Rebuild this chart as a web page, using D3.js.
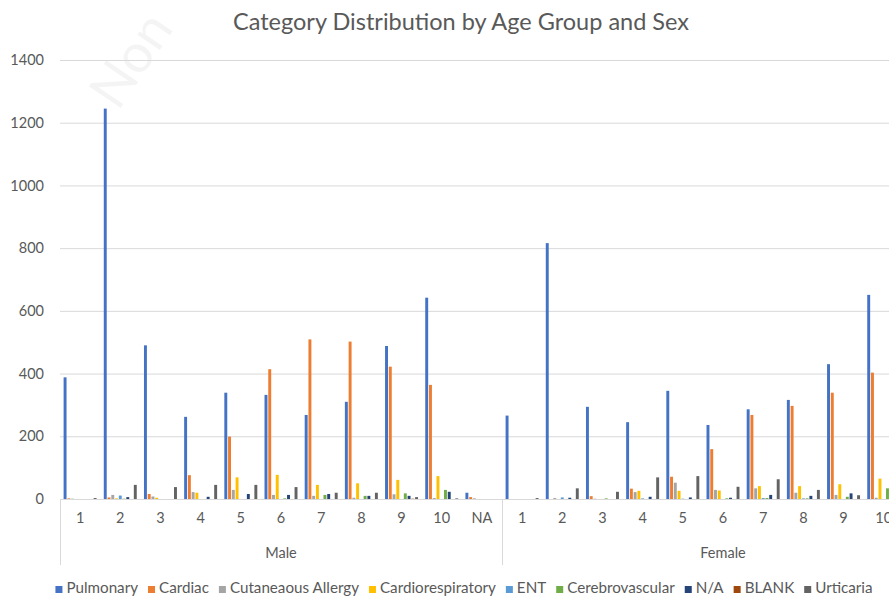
<!DOCTYPE html>
<html>
<head>
<meta charset="utf-8">
<script src="https://cdn.jsdelivr.net/npm/d3@7/dist/d3.min.js"></script>
<style>
  html, body { margin: 0; padding: 0; background: #fff; }
  svg { display: block; font-family: Lato, "Open Sans", sans-serif; }
</style>
</head>
<body>
<svg id="chart" width="889" height="596"></svg>
<script>
// Age groups within each sex
const ageGroups = ["1", "2", "3", "4", "5", "6", "7", "8", "9", "10", "NA"];
const sexes = ["Male", "Female"];

// Series (category of case)
const series = ["Pulmonary", "Cardiac", "Cutaneaous Allergy", "Cardiorespiratory",
  "ENT", "Cerebrovascular", "N/A", "BLANK", "Urticaria"];
const colors = ["#4472C4", "#ED7D31", "#A5A5A5", "#FFC000",
  "#5B9BD5", "#70AD47", "#264478", "#9E480E", "#636363"];

// Counts per age group (order follows ageGroups), one array per series and sex
const malePulmonary         = [388, 1245, 490, 262, 339, 332, 268, 310, 488, 642, 20];
const maleCardiac           = [2, 5, 16, 76, 199, 414, 509, 502, 422, 364, 6];
const maleCutaneous         = [1, 13, 8, 22, 29, 13, 10, 4, 15, 3, 2];
const maleCardiorespiratory = [0, 2, 4, 20, 69, 77, 45, 50, 61, 73, 0];
const maleENT               = [0, 11, 0, 0, 0, 0, 0, 0, 0, 0, 0];
const maleCerebrovascular   = [0, 1, 0, 0, 0, 2, 13, 10, 18, 29, 0];
const maleNA                = [0, 6, 0, 7, 16, 13, 16, 10, 10, 23, 0];
const maleBlank             = [0, 0, 0, 0, 0, 0, 0, 0, 1, 0, 0];
const maleUrticaria         = [3, 45, 38, 45, 45, 38, 20, 20, 6, 2, 0];

const femalePulmonary         = [266, 816, 294, 245, 345, 236, 286, 316, 430, 651, 14];
const femaleCardiac           = [0, 0, 9, 33, 71, 159, 268, 297, 339, 403, 5];
const femaleCutaneous         = [0, 3, 1, 22, 52, 29, 34, 20, 13, 4, 1];
const femaleCardiorespiratory = [0, 0, 0, 26, 26, 27, 41, 41, 47, 65, 0];
const femaleENT               = [0, 5, 0, 2, 1, 0, 3, 2, 0, 0, 0];
const femaleCerebrovascular   = [0, 0, 2, 0, 0, 2, 3, 2, 7, 34, 0];
const femaleNA                = [0, 4, 0, 7, 5, 4, 13, 10, 18, 20, 0];
const femaleBlank             = [0, 0, 0, 0, 0, 0, 0, 0, 0, 0, 0];
const femaleUrticaria         = [3, 34, 23, 69, 73, 39, 63, 29, 12, 5, 0];

const yTicks = [0, 200, 400, 600, 800, 1000, 1200, 1400];

const valuesBySex = {
  Male: [malePulmonary, maleCardiac, maleCutaneous, maleCardiorespiratory, maleENT,
         maleCerebrovascular, maleNA, maleBlank, maleUrticaria],
  Female: [femalePulmonary, femaleCardiac, femaleCutaneous, femaleCardiorespiratory, femaleENT,
           femaleCerebrovascular, femaleNA, femaleBlank, femaleUrticaria]
};

// Flatten into one row per (sex, age group)
const rows = [];
sexes.forEach(sex => {
  ageGroups.forEach((age, i) => {
    rows.push({
      key: sex + "|" + age, sex, age,
      values: series.map((s, j) => ({ series: s, color: colors[j], value: valuesBySex[sex][j][i] }))
    });
  });
});

const svg = d3.select("#chart");
const W = 889, H = 596;
const plot = { left: 60, top: 60, bottom: 499, right: 944 };

svg.append("rect").attr("width", W).attr("height", H).attr("fill", "#fff");

// Faint diagonal watermark
svg.append("text")
  .attr("transform", "translate(118,112) rotate(-56)")
  .attr("font-size", 54)
  .attr("fill", "#000")
  .attr("fill-opacity", 0.045)
  .text("Non");

const x0 = d3.scaleBand().domain(rows.map(r => r.key))
  .range([plot.left, plot.right]).paddingInner(0).paddingOuter(0);
const x1 = d3.scaleBand().domain(series)
  .range([0, x0.bandwidth()]).paddingInner(0.22).paddingOuter(0.96);
const y = d3.scaleLinear().domain([0, 1400]).range([plot.bottom, plot.top]);

const clip = svg.append("defs").append("clipPath").attr("id", "plotClip");
clip.append("rect").attr("x", 0).attr("y", 0).attr("width", W).attr("height", H);

// Gridlines and value axis
const yAxis = d3.axisLeft(y).tickValues(yTicks).tickFormat(d3.format("d"))
  .tickSize(-(W - plot.left)).tickPadding(16);
const gy = svg.append("g").attr("transform", `translate(${plot.left},0)`).call(yAxis);
gy.select(".domain").remove();
gy.selectAll(".tick line").attr("stroke", "#d9d9d9").attr("stroke-width", 1);
gy.selectAll(".tick text").attr("fill", "#595959").attr("font-size", 14.5)
  .attr("font-family", "Lato, sans-serif");

// Bars
const groups = svg.append("g").attr("clip-path", "url(#plotClip)")
  .selectAll("g.cat").data(rows).join("g")
  .attr("class", "cat")
  .attr("transform", d => `translate(${x0(d.key)},0)`);
groups.selectAll("rect").data(d => d.values).join("rect")
  .attr("x", d => x1(d.series))
  .attr("width", x1.bandwidth())
  .attr("y", d => y(d.value))
  .attr("height", d => y(0) - y(d.value))
  .attr("fill", d => d.color);

// Category axis: baseline, age labels, sex labels and group dividers
svg.append("line").attr("x1", plot.left).attr("x2", W)
  .attr("y1", y(0) + 0.5).attr("y2", y(0) + 0.5).attr("stroke", "#d9d9d9");

const xAxis = d3.axisBottom(x0).tickSize(0).tickPadding(14).tickFormat(k => k.split("|")[1]);
const gx = svg.append("g").attr("transform", `translate(0,${plot.bottom})`).call(xAxis);
gx.select(".domain").remove();
gx.selectAll(".tick text").attr("fill", "#595959").attr("font-size", 14.5)
  .attr("font-family", "Lato, sans-serif");

const sexBand = d3.scaleBand().domain(sexes).range([plot.left, plot.right]);
svg.append("g").selectAll("line").data(sexes).join("line")
  .attr("x1", d => Math.round(sexBand(d)) + 0.5)
  .attr("x2", d => Math.round(sexBand(d)) + 0.5)
  .attr("y1", plot.bottom).attr("y2", 565)
  .attr("stroke", "#d9d9d9");
svg.append("g").selectAll("text").data(sexes).join("text")
  .attr("x", d => sexBand(d) + sexBand.bandwidth() / 2)
  .attr("y", 558)
  .attr("text-anchor", "middle")
  .attr("fill", "#595959").attr("font-size", 14.5)
  .text(d => d);

// Title
svg.append("text").attr("x", 461).attr("y", 30)
  .attr("text-anchor", "middle")
  .attr("fill", "#595959").attr("font-size", 23.5)
  .text("Category Distribution by Age Group and Sex");

// Legend, laid out from measured label widths and centred
const legend = svg.append("g");
const items = legend.selectAll("g").data(series).join("g");
items.append("rect").attr("width", 7).attr("height", 7).attr("y", -7)
  .attr("fill", (d, i) => colors[i]);
items.append("text").attr("x", 11).attr("y", 0)
  .attr("fill", "#595959").attr("font-size", 15.2)
  .text(d => d);
let cx = 0;
const gap = 10;
items.each(function () {
  const g = d3.select(this);
  g.attr("transform", `translate(${cx},0)`);
  cx += 11 + g.select("text").node().getComputedTextLength() + gap;
});
const legendWidth = cx - gap;
legend.attr("transform", `translate(${464 - legendWidth / 2},593)`);
</script>
</body>
</html>
